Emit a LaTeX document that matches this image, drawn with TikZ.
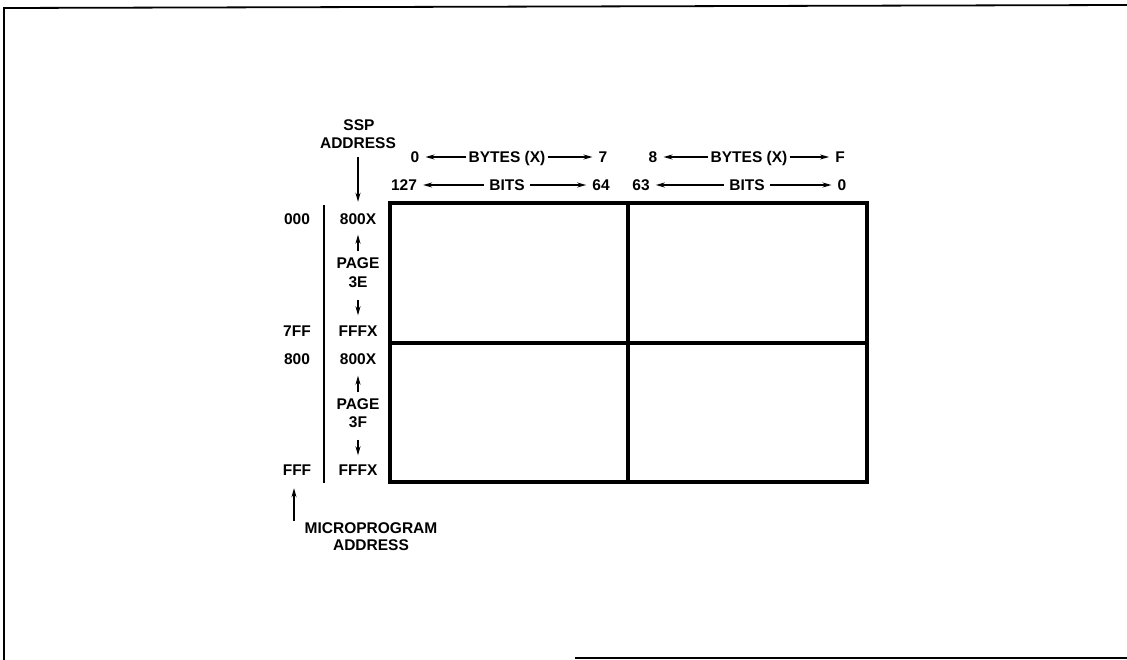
\documentclass[tikz,border=0pt]{standalone}
\usepackage{fontspec}
\setmainfont{Liberation Sans}
\usetikzlibrary{arrows.meta}
\begin{document}
\begin{tikzpicture}[x=1pt,y=-1pt,
  lbl/.style={font=\fontsize{15.5}{18}\selectfont\bfseries, inner sep=2pt, text height=11pt, text depth=0pt, anchor=center},
  arr/.style={line width=1.4pt, -{Stealth[length=9pt,width=5pt]}},
  frame/.style={line width=1.8pt},
  grid/.style={line width=3.2pt}]
\useasboundingbox (0,0) rectangle (1127,660);
% frame
\draw[frame] (4,660) -- (4,8) -- (1127,5);
\draw[frame] (575,658) -- (1127,658);
% SSP address
\node[lbl] (ssp) at (359,125) {SSP};
\node[lbl] (addr) at (358,143) {ADDRESS};
% header rows
\node[lbl] (n0) at (415,157) {0};
\node[lbl] (by1) at (507,157) {BYTES (X)};
\node[lbl] (n7) at (603,157) {7};
\node[lbl] (n8) at (653,157) {8};
\node[lbl] (by2) at (749,157) {BYTES (X)};
\node[lbl] (nF) at (840,157) {F};
\node[lbl] (n127) at (404,185) {127};
\node[lbl] (bi1) at (507,185) {BITS};
\node[lbl] (n64) at (601,185) {64};
\node[lbl] (n63) at (641,185) {63};
\node[lbl] (bi2) at (747,185) {BITS};
\node[lbl] (nb0) at (842,185) {0};
\draw[arr, shorten >=4pt] (by1.west) -- (n0.east);
\draw[arr, shorten >=4pt] (by1.east) -- (n7.west);
\draw[arr, shorten >=4pt] (by2.west) -- (n8.east);
\draw[arr, shorten >=4pt] (by2.east) -- (nF.west);
\draw[arr, shorten >=4pt, shorten <=3pt] (bi1.west) -- (n127.east);
\draw[arr, shorten >=4pt, shorten <=3pt] (bi1.east) -- (n64.west);
\draw[arr, shorten >=4pt, shorten <=3pt] (bi2.west) -- (n63.east);
\draw[arr, shorten >=4pt, shorten <=3pt] (bi2.east) -- (nb0.west);
% left columns
\node[lbl] (m000) at (297,219) {000};
\node[lbl] (m7ff) at (297,331) {7FF};
\node[lbl] (m800) at (297,359) {800};
\node[lbl] (mfff) at (297,470) {FFF};
\draw[line width=1.6pt] (324,205) -- (324,483);
\node[lbl] (a800) at (358,219) {800X};
\node[lbl] (page1) at (358,263) {PAGE};
\node[lbl] (e3) at (358,282) {3E};
\node[lbl] (fffx1) at (358,331) {FFFX};
\node[lbl] (b800) at (358,359) {800X};
\node[lbl] (page2) at (358,404) {PAGE};
\node[lbl] (f3) at (358,422) {3F};
\node[lbl] (fffx2) at (358,470) {FFFX};
\draw[arr, shorten <=4pt, shorten >=8pt] (page1.north) -- (a800.south);
\draw[arr, shorten <=10pt, shorten >=8pt] (e3.south) -- (fffx1.north);
\draw[arr, shorten <=4pt, shorten >=9pt] (page2.north) -- (b800.south);
\draw[arr, shorten <=10pt, shorten >=7pt] (f3.south) -- (fffx2.north);
\draw[arr, shorten <=6.5pt, shorten >=9.5pt] (addr.south) -- (a800.north);
% memory rectangle
\coordinate (tl) at (390,203);
\coordinate (br) at (867,482);
\draw[grid] (tl) rectangle (br);
\draw[grid] (628,203) -- (628,482);
\draw[grid] (390,343) -- (867,343);
% microprogram address
\node[lbl] (mp1) at (371,528) {MICROPROGRAM};
\node[lbl] (mp2) at (371,545) {ADDRESS};
\coordinate (mpb) at (294,521);
\draw[arr, shorten >=10.5pt] (mpb) -- (mpb |- mfff.south);
\end{tikzpicture}
\end{document}
